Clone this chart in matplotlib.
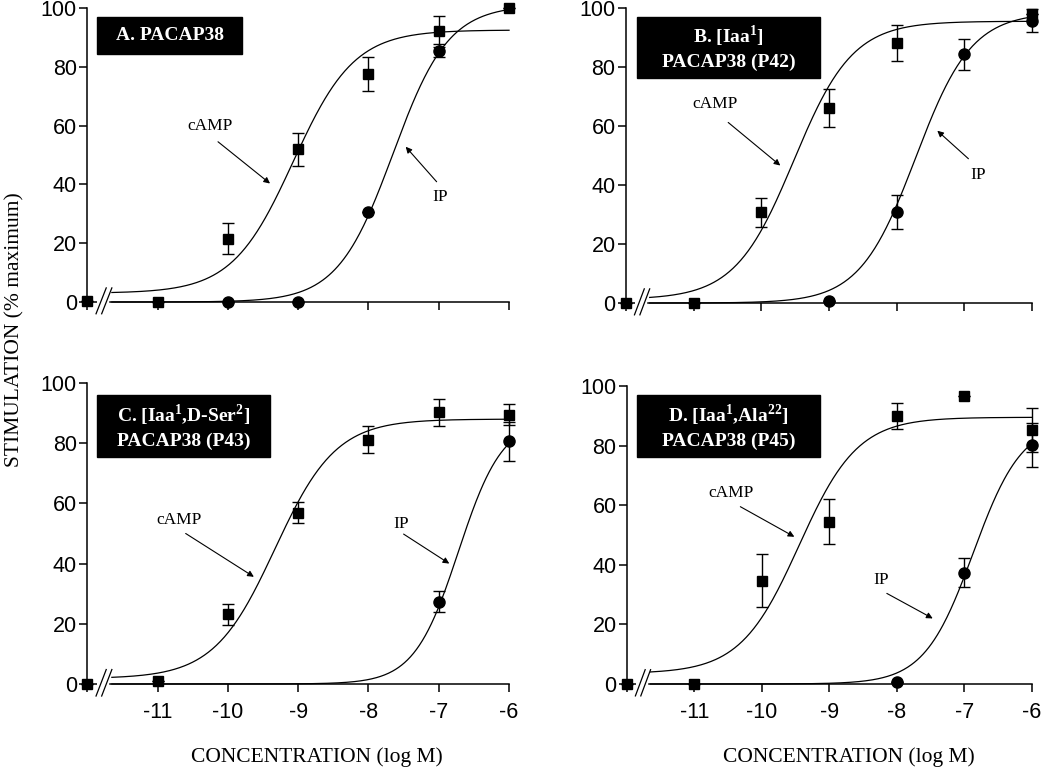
import numpy as np
import matplotlib.pyplot as plt
from matplotlib.patches import Rectangle

plt.rcParams['font.family'] = 'Liberation Sans'
plt.rcParams['mathtext.fontset'] = 'custom'
plt.rcParams['mathtext.rm'] = 'Liberation Serif'
plt.rcParams['mathtext.bf'] = 'Liberation Serif:bold'
SERIF = 'Liberation Serif'

# log M doses; -12 stands for the control (no peptide)
doses = [-12, -11, -10, -9, -8, -7, -6]
xtick_labels = ['', '-11', '-10', '-9', '-8', '-7', '-6']

# A. PACAP38
a_camp_x = [-12, -11, -10, -9, -8, -7, -6]
a_camp_y = [0.5, 0, 21.5, 52, 77.5, 92, 100]
a_camp_err = [0, 0, 5.3, 5.6, 5.7, 5.3, 0]
a_ip_x = [-10, -9, -8, -7]
a_ip_y = [0, 0, 30.5, 85.5]
a_ip_err = [0, 0, 0, 2.2]

# B. [Iaa1] PACAP38 (P42)
b_camp_x = [-12, -11, -10, -9, -8, -6]
b_camp_y = [0, 0, 30.8, 66, 88, 97.8]
b_camp_err = [0, 0, 4.9, 6.4, 6.1, 0]
b_ip_x = [-9, -8, -7, -6]
b_ip_y = [0.8, 30.8, 84.3, 95.7]
b_ip_err = [0, 5.7, 5.3, 4.0]

# C. [Iaa1,D-Ser2] PACAP38 (P43)
c_camp_x = [-12, -11, -10, -9, -8, -7, -6]
c_camp_y = [0, 1, 23.1, 56.9, 81.2, 90.3, 89.4]
c_camp_err = [0, 0, 3.6, 3.4, 4.4, 4.5, 3.5]
c_ip_x = [-7, -6]
c_ip_y = [27.4, 80.6]
c_ip_err = [3.6, 6.5]

# D. [Iaa1,Ala22] PACAP38 (P45)
d_camp_x = [-12, -11, -10, -9, -8, -7, -6]
d_camp_y = [0, 0, 34.7, 54.5, 89.9, 96.8, 85.2]
d_camp_err = [0, 0, 9.0, 7.5, 4.3, 0, 7.5]
d_ip_x = [-8, -7, -6]
d_ip_y = [0.5, 37.4, 80.2]
d_ip_err = [0, 4.8, 7.5]

# fitted curves: bottom, top, logEC50, hill slope
a_camp_fit = [3.0, 92.5, -9.07, 1.0]
a_ip_fit = [0.0, 101.0, -7.65, 1.1]
b_camp_fit = [1.2, 95.5, -9.52, 1.0]
b_ip_fit = [0.0, 98.5, -7.72, 1.05]
c_camp_fit = [1.8, 88.0, -9.33, 1.0]
c_ip_fit = [0.0, 88.0, -6.72, 1.38]
d_camp_fit = [3.5, 89.5, -9.45, 1.0]
d_ip_fit = [0.0, 88.0, -6.87, 1.2]


def hill(x, p):
    b, t, ec, h = p
    return b + (t - b) / (1 + 10 ** ((ec - x) * h))


def draw_panel(ax, camp, ip, camp_fit, ip_fit, title, box, notes, xlabels):
    xs = np.linspace(-11.65, -6, 400)
    ax.plot(xs, hill(xs, camp_fit), color='black', lw=0.9, clip_on=False)
    ax.plot(xs, hill(xs, ip_fit), color='black', lw=0.9, clip_on=False)

    ax.errorbar(ip[0], ip[1], yerr=ip[2], fmt='o', color='black', ms=8,
                capsize=4, elinewidth=1, capthick=1, clip_on=False, zorder=3)
    ax.errorbar(camp[0], camp[1], yerr=camp[2], fmt='s', color='black', ms=7.5,
                capsize=4, elinewidth=1, capthick=1, clip_on=False, zorder=4)

    ax.set_xlim(-12, -6)
    ax.set_ylim(0, 100)
    ax.spines['top'].set_visible(False)
    ax.spines['right'].set_visible(False)
    ax.spines['left'].set_bounds(0, 100)
    ax.spines['bottom'].set_bounds(-11.68, -6)
    for s in ('left', 'bottom'):
        ax.spines[s].set_linewidth(1.1)
    # short stub of axis before the break, and the break marks
    ax.hlines(0, -12, -11.86, color='black', lw=1.1, clip_on=False)
    ax.plot([-11.875, -11.73], [-4, 4.8], color='black', lw=0.9, clip_on=False)
    ax.plot([-11.795, -11.65], [-4, 4.8], color='black', lw=0.9, clip_on=False)

    ax.set_xticks(doses)
    ax.set_xticklabels(xtick_labels if xlabels else [''] * len(doses))
    ax.set_yticks([0, 20, 40, 60, 80, 100])
    ax.tick_params(axis='both', direction='out', length=6, width=1.1, labelsize=15.5)
    ax.tick_params(axis='x', pad=7)
    ax.tick_params(axis='y', pad=1.5)

    x0, y0, x1, y1 = box
    ax.add_patch(Rectangle((x0, y0), x1 - x0, y1 - y0, transform=ax.transAxes,
                           facecolor='black', edgecolor='black', clip_on=False))
    ax.text((x0 + x1) / 2, (y0 + y1) / 2, title, transform=ax.transAxes,
            color='white', fontweight='bold', family=SERIF, fontsize=14,
            ha='center', va='center', linespacing=1.35)

    for label, txt, tail, head in notes:
        ax.annotate('', xy=head, xytext=tail,
                    arrowprops=dict(arrowstyle='-|>', color='black', lw=0.8,
                                    mutation_scale=9, shrinkA=0, shrinkB=0))
        ax.text(txt[0], txt[1], label, family=SERIF, fontsize=12.5,
                ha='center', va='center')


fig = plt.figure(figsize=(10.5, 7.74), dpi=100)
axA = fig.add_axes([0.0831, 0.6098, 0.4017, 0.3799])
axB = fig.add_axes([0.5962, 0.6085, 0.3867, 0.3812])
axC = fig.add_axes([0.0831, 0.1163, 0.4017, 0.3889])
axD = fig.add_axes([0.5971, 0.1163, 0.3857, 0.3850])

draw_panel(axA, (a_camp_x, a_camp_y, a_camp_err), (a_ip_x, a_ip_y, a_ip_err),
           a_camp_fit, a_ip_fit, 'A. PACAP38', (0.023, 0.844, 0.367, 0.969),
           [('cAMP', (-10.26, 59.8), (-10.14, 54.5), (-9.40, 40.3)),
            ('IP', (-6.98, 35.8), (-7.03, 40.9), (-7.47, 52.8))], False)
draw_panel(axB, (b_camp_x, b_camp_y, b_camp_err), (b_ip_x, b_ip_y, b_ip_err),
           b_camp_fit, b_ip_fit, 'B. [Iaa$^{\\mathbf{1}}$]\nPACAP38 (P42)',
           (0.027, 0.763, 0.478, 0.969),
           [('cAMP', (-10.68, 67.4), (-10.49, 61.2), (-9.72, 46.6)),
            ('IP', (-6.79, 43.3), (-6.94, 48.9), (-7.40, 58.4))], False)
draw_panel(axC, (c_camp_x, c_camp_y, c_camp_err), (c_ip_x, c_ip_y, c_ip_err),
           c_camp_fit, c_ip_fit, 'C. [Iaa$^{\\mathbf{1}}$,D-Ser$^{\\mathbf{2}}$]\nPACAP38 (P43)',
           (0.023, 0.754, 0.433, 0.960),
           [('cAMP', (-10.70, 54.4), (-10.60, 50.0), (-9.63, 35.6)),
            ('IP', (-7.53, 53.3), (-7.50, 49.8), (-6.85, 40.0))], True)
draw_panel(axD, (d_camp_x, d_camp_y, d_camp_err), (d_ip_x, d_ip_y, d_ip_err),
           d_camp_fit, d_ip_fit, 'D. [Iaa$^{\\mathbf{1}}$,Ala$^{\\mathbf{22}}$]\nPACAP38 (P45)',
           (0.025, 0.762, 0.477, 0.970),
           [('cAMP', (-10.46, 64.0), (-10.32, 59.5), (-9.52, 49.4)),
            ('IP', (-8.23, 34.9), (-8.15, 30.4), (-7.47, 22.0))], True)

fig.text(15 / 1050, 1 - 330 / 774, 'STIMULATION (% maximum)', rotation=90,
         family=SERIF, fontsize=15.5, ha='center', va='center')
fig.text(317 / 1050, 1 - 757 / 774, 'CONCENTRATION (log M)',
         family=SERIF, fontsize=15.5, ha='center', va='center')
fig.text(849 / 1050, 1 - 757 / 774, 'CONCENTRATION (log M)',
         family=SERIF, fontsize=15.5, ha='center', va='center')

fig.savefig('out.png', dpi=100)
